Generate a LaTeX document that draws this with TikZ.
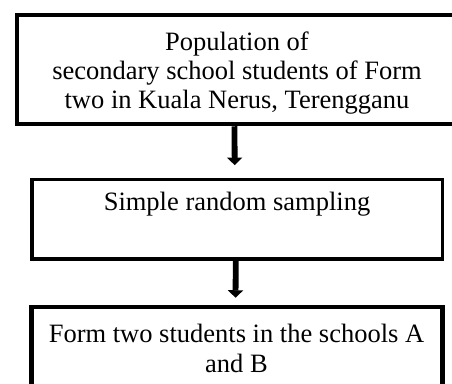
\documentclass[tikz,border=0pt]{standalone}
\usepackage{fontspec}
\setmainfont{Liberation Serif}
\usetikzlibrary{arrows.meta}
\begin{document}
\begin{tikzpicture}[x=1pt,y=-1pt,
  box/.style={draw=black, rectangle, inner sep=0pt},
  txt/.style={align=center, inner sep=0pt, font=\fontsize{26.5}{29.2}\selectfont},
  flow/.style={line width=5.8pt, -{Triangle[width=15pt,length=7.5pt]}}]
\useasboundingbox (0,0) rectangle (452,383);
\node[box, line width=4.5pt, minimum width=440pt, minimum height=109pt] (top) at (237,69.5) {};
\node[txt] (toptxt) at (237,73) {Population of\\secondary school students of Form\\two in Kuala Nerus, Terengganu};
\node[box, line width=3.8pt, minimum width=410.5pt, minimum height=79.5pt] (mid) at (237.25,219.25) {};
\node[txt] (midtxt) at (237,204) {Simple random sampling};
\node[box, line width=4.5pt, minimum width=411pt, minimum height=100pt] (bot) at (237,357) {};
\node[txt] (bottxt) at (236.5,348.5) {Form two students in the schools A\\and B};
\draw[flow, shorten >=12.5pt] ([xshift=-2.5pt]top.south) -- ([xshift=-2.5pt]mid.north);
\draw[flow, shorten >=7pt] ([xshift=-1.5pt]mid.south) -- ([xshift=-1.5pt]bot.north);
\end{tikzpicture}
\end{document}
